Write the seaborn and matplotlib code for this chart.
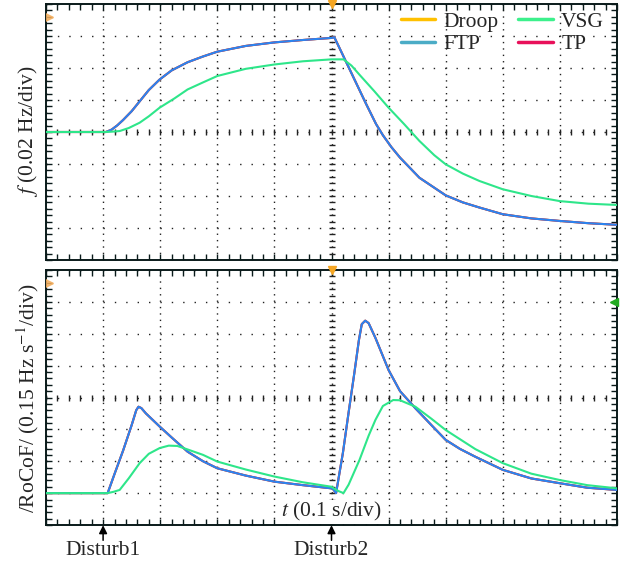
import numpy as np
import pandas as pd
import seaborn as sns
import matplotlib.pyplot as plt
from matplotlib.lines import Line2D

# --- DATA (t in s) ---
# frequency deviation, Hz (0.02 Hz/div)
t_f_fast = [0.0, 0.105, 0.115, 0.125, 0.135, 0.150, 0.165, 0.180, 0.199, 0.220, 0.248, 0.275,
            0.300, 0.350, 0.400, 0.450, 0.500, 0.505, 0.520, 0.540, 0.560, 0.578, 0.590,
            0.605, 0.620, 0.654, 0.700, 0.730, 0.759, 0.800, 0.850, 0.900, 0.950, 1.0]
f_fast = [0.0, 0.0, 0.0015, 0.0042, 0.0075, 0.013, 0.0196, 0.0262, 0.0328, 0.0385, 0.0436, 0.0472,
          0.0502, 0.0538, 0.056, 0.0575, 0.0588, 0.0592, 0.048, 0.033, 0.018, 0.005, -0.002,
          -0.0095, -0.016, -0.0286, -0.0396, -0.0440, -0.0472, -0.0514, -0.0540, -0.0556,
          -0.0570, -0.058]
t_f_vsg = [0.0, 0.105, 0.115, 0.129, 0.145, 0.164, 0.180, 0.199, 0.225, 0.248, 0.275, 0.300,
           0.350, 0.400, 0.450, 0.500, 0.521, 0.535, 0.549, 0.575, 0.600, 0.627, 0.654, 0.680,
           0.700, 0.730, 0.759, 0.800, 0.850, 0.900, 0.950, 1.0]
f_vsg = [0.0, 0.0, 0.0002, 0.0006, 0.0025, 0.0058, 0.0098, 0.0152, 0.021, 0.0266, 0.031, 0.035,
         0.0395, 0.0422, 0.0442, 0.0454, 0.0454, 0.0415, 0.0358, 0.0255, 0.0152, 0.005, -0.0056,
         -0.0145, -0.0202, -0.026, -0.0306, -0.0358, -0.0400, -0.0432, -0.0448, -0.0456]

# |RoCoF|, Hz/s (0.15 Hz s^-1/div)
t_r_fast = [0.0, 0.108, 0.120, 0.135, 0.150, 0.158, 0.162, 0.167, 0.175, 0.199, 0.220, 0.248,
            0.275, 0.300, 0.350, 0.400, 0.450, 0.500, 0.503, 0.508, 0.520, 0.530, 0.540, 0.548,
            0.553, 0.559, 0.565, 0.577, 0.600, 0.620, 0.647, 0.675, 0.700, 0.725, 0.752, 0.800,
            0.850, 0.900, 0.948, 1.0]
r_fast = [0.0, 0.0, 0.09, 0.2, 0.32, 0.39, 0.4065, 0.40, 0.375, 0.3135, 0.262, 0.195,
          0.150, 0.117, 0.0825, 0.054, 0.0375, 0.0225, 0.018, 0.0, 0.19, 0.38, 0.565, 0.72,
          0.795, 0.8115, 0.80, 0.73, 0.579, 0.48, 0.399, 0.32, 0.2505, 0.208, 0.171, 0.1095,
          0.069, 0.0465, 0.0255, 0.015]
t_r_vsg = [0.0, 0.108, 0.118, 0.129, 0.145, 0.164, 0.180, 0.199, 0.215, 0.230, 0.248, 0.275,
           0.300, 0.350, 0.400, 0.450, 0.500, 0.504, 0.512, 0.521, 0.530, 0.549, 0.565, 0.577,
           0.590, 0.608, 0.620, 0.647, 0.675, 0.700, 0.752, 0.800, 0.850, 0.900, 0.948, 1.0]
r_vsg = [0.0, 0.0, 0.006, 0.015, 0.07, 0.141, 0.185, 0.212, 0.2235, 0.222, 0.2055, 0.18,
         0.1485, 0.111, 0.078, 0.051, 0.03, 0.0225, 0.01, 0.0, 0.04, 0.156, 0.27, 0.345,
         0.41, 0.438, 0.437, 0.4065, 0.35, 0.297, 0.207, 0.141, 0.0915, 0.0615, 0.0375, 0.0225]

disturb_t = [0.1, 0.5]
disturb_labels = ['Disturb1', 'Disturb2']

legend_names = ['Droop', 'FTP', 'VSG', 'TP']
legend_colors = ['#FFC000', '#4BACC6', '#3CF08C', '#E8105A']
trace_colors = {'Droop': '#FFC000', 'TP': '#E8105A', 'FTP': '#2B84EE', 'VSG': '#2EE68A'}

# Droop, TP and FTP overlap on the screen
rows = []
for name in ['Droop', 'TP', 'FTP']:
    rows += [(name, 'f', t, v) for t, v in zip(t_f_fast, f_fast)]
    rows += [(name, 'r', t, v) for t, v in zip(t_r_fast, r_fast)]
rows += [('VSG', 'f', t, v) for t, v in zip(t_f_vsg, f_vsg)]
rows += [('VSG', 'r', t, v) for t, v in zip(t_r_vsg, r_vsg)]
df = pd.DataFrame(rows, columns=['Scheme', 'Signal', 'Time', 'Value'])

sns.set_theme(style="ticks")
plt.rcParams['font.family'] = ['Liberation Serif', 'DejaVu Serif']
plt.rcParams['mathtext.fontset'] = 'stix'
FS = 15.5

fig = plt.figure(figsize=(6.25, 5.68), dpi=100)
ax_f = fig.add_axes([46 / 625, 1 - 260 / 568, 571 / 625, 256 / 568])
ax_r = fig.add_axes([46 / 625, 1 - 525 / 568, 571 / 625, 255 / 568])


def scope_axes(ax, ylo, ydiv):
    ax.set_xlim(0, 1.0)
    ax.set_ylim(ylo, ylo + 8 * ydiv)
    ax.set_xticks(np.arange(0, 1.01, 0.1))
    ax.set_xticks(np.arange(0, 1.001, 0.02), minor=True)
    ax.set_yticks(ylo + ydiv * np.arange(9))
    ax.set_yticks(ylo + ydiv * np.arange(0, 8.01, 0.2), minor=True)
    ax.tick_params(which='both', direction='in', top=True, right=True, length=4, width=1,
                   color='#0A1A1A', labelbottom=False, labelleft=False)
    ax.xaxis.grid(True, which='major', color='#222222', lw=1.0, linestyle=(0, (1, 3.6)))
    ax.yaxis.grid(True, which='major', color='#222222', lw=1.0, linestyle=(0, (1, 7.2)))
    for s in ax.spines.values():
        s.set_linewidth(1.4)
        s.set_color('#0A1A1A')
    # centre crosshair ticks
    yc = ylo + 4 * ydiv
    xs = np.arange(0, 1.001, 0.02)
    ax.plot(xs, np.full_like(xs, yc), ls='none', marker='|', ms=5, mew=1, color='#222222', zorder=1)
    ys = ylo + ydiv * np.arange(0, 8.01, 0.2)
    ax.plot(np.full_like(ys, 0.5), ys, ls='none', marker='_', ms=5, mew=1, color='#222222', zorder=1)
    # trigger / channel markers
    ax.plot([0.5], [ylo + 8 * ydiv], marker='v', ms=6, color='#F5A623', clip_on=False, zorder=5)
    ax.plot([0.004], [ylo + 7.6 * ydiv], marker='>', ms=7, color='#F5B060', alpha=0.85, zorder=5)
    ax.set_xlabel('')
    ax.set_ylabel('')


for ax, sig in [(ax_f, 'f'), (ax_r, 'r')]:
    sub = df[df['Signal'] == sig]
    for name in ['Droop', 'TP', 'FTP', 'VSG']:
        sns.lineplot(data=sub[sub['Scheme'] == name], x='Time', y='Value', ax=ax,
                     color=trace_colors[name], lw=1.5, legend=False, zorder=3)

scope_axes(ax_f, -0.08, 0.02)
scope_axes(ax_r, -0.15, 0.15)

ax_r.plot([0.995], [0.9], marker='<', ms=6, color='#22AA22', clip_on=False, zorder=5)

fig.text(28 / 625, 1 - 131 / 568, r'$f$ (0.02 Hz/div)', rotation=90, ha='center', va='center',
         fontsize=FS)
fig.text(28 / 625, 1 - 398 / 568, r'/RoCoF/ (0.15 Hz s$^{-1}$/div)', rotation=90,
         ha='center', va='center', fontsize=FS)
ax_r.text(0.5, -0.088, r'$t$ (0.1 s/div)', ha='center', va='center', fontsize=FS, zorder=2,
          bbox=dict(facecolor='white', edgecolor='none', pad=0.1))

for xd, lab in zip(disturb_t, disturb_labels):
    ax_r.annotate('', xy=(xd, -0.151), xytext=(xd, -0.222), xycoords='data',
                  annotation_clip=False,
                  arrowprops=dict(arrowstyle='-|>', color='black', lw=1.1, shrinkA=0, shrinkB=0,
                                  mutation_scale=12))
    ax_r.text(xd, -0.27, lab, ha='center', va='center', fontsize=FS, clip_on=False)

handles = [Line2D([0], [0], color=c, lw=2.5) for c in legend_colors]
ax_f.legend(handles, legend_names, ncol=2, loc='upper right', frameon=False, fontsize=FS,
            handlelength=1.6, handletextpad=0.4, columnspacing=0.9, labelspacing=0.1,
            borderaxespad=0.2, bbox_to_anchor=(1.0, 1.02))

fig.savefig('out.png', dpi=100)
